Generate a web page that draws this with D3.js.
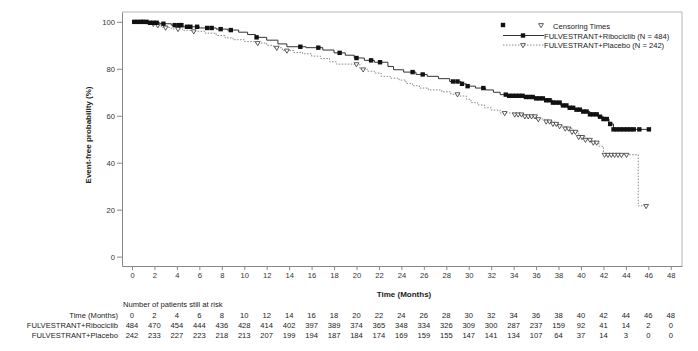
<!DOCTYPE html>
<html>
<head>
<meta charset="utf-8">
<script src="https://cdn.jsdelivr.net/npm/d3@7"></script>
<style>
  body { margin: 0; background: #fff; }
  svg { display: block; font-family: "Liberation Sans", Arial, sans-serif; }
  .axis text { fill: #333; font-size: 7.6px; }
  .axis line, .axis path { stroke: #888; }
  .lbl { font-size: 7.6px; fill: #222; }
  .title { font-size: 8px; font-weight: bold; fill: #222; }
</style>
</head>
<body>
<svg width="698" height="351"></svg>
<script>

  // DATA

  var timeTicks = [0, 2, 4, 6, 8, 10, 12, 14, 16, 18, 20, 22, 24, 26, 28, 30, 32, 34, 36, 38, 40, 42, 44, 46, 48];
  var probTicks = [0, 20, 40, 60, 80, 100];

  // step points of the KM curves: [month, survival %]
  var ribStepT = [0, 1.5, 2.5, 3.5, 4.5, 6.0, 7.5, 8.5, 9.5, 10.3, 11.0, 12.0, 13.0, 13.8, 15.5, 17.0, 18.0, 19.0, 19.8, 20.7, 21.6, 22.8, 23.3, 24.2, 25.3, 26.3, 27.3, 28.3, 29.3, 29.8, 30.6, 31.5, 32.2, 32.8, 33.5, 35.0, 36.0, 36.8, 37.5, 38.2, 38.8, 39.4, 40.0, 40.8, 41.5, 42.0, 42.5, 42.9];
  var ribStepS = [100, 99.6, 99.2, 98.6, 97.9, 97.4, 96.9, 96.5, 95.6, 94.6, 93.4, 92.2, 90.6, 89.4, 89.0, 88.0, 86.8, 85.8, 84.6, 83.6, 82.8, 81.0, 79.6, 78.6, 77.6, 76.8, 75.8, 74.6, 73.6, 72.6, 71.8, 71.0, 70.0, 69.0, 68.5, 68.0, 67.4, 66.6, 65.6, 64.4, 63.4, 62.6, 61.8, 60.6, 59.6, 58.6, 56.5, 54.2];
  var ribEnd = 46.1;

  var plaStepT = [0, 1.2, 2.0, 2.6, 3.5, 4.5, 5.5, 6.5, 7.5, 8.3, 9.0, 10.0, 11.0, 12.0, 12.6, 13.4, 14.4, 15.2, 16.0, 16.8, 17.6, 18.2, 20.3, 21.0, 21.6, 22.2, 23.0, 23.8, 24.4, 25.0, 25.6, 26.4, 27.6, 28.4, 29.2, 29.8, 30.2, 30.8, 31.4, 32.0, 32.8, 34.0, 35.0, 36.0, 36.8, 37.4, 38.0, 38.6, 39.2, 39.8, 40.4, 41.0, 41.6, 42.0, 45.1];
  var plaStepS = [100, 99.2, 98.6, 97.6, 97.0, 96.4, 96.0, 95.2, 94.2, 93.2, 92.4, 91.6, 91.0, 90.0, 89.0, 87.8, 87.0, 86.4, 85.4, 84.4, 83.0, 82.0, 79.8, 79.0, 78.2, 76.8, 76.0, 75.2, 73.8, 72.8, 71.8, 71.0, 70.2, 69.2, 68.4, 67.0, 65.6, 64.6, 63.4, 62.4, 61.2, 60.6, 59.8, 58.6, 57.6, 56.6, 55.6, 54.6, 53.2, 51.0, 49.8, 48.6, 47.0, 43.4, 21.6];
  var plaEnd = 45.8;

  // censoring times (months)
  var ribCensor = [0.2, 0.5, 0.8, 1.0, 1.3, 1.6, 1.9, 2.2, 2.8, 3.8, 4.2, 4.4, 4.9, 5.2, 5.8, 6.7, 7.1, 7.9, 8.8, 11.1, 15.0, 16.6, 18.5, 20.0, 21.3, 22.1, 25.0, 25.9, 28.6, 29.0, 29.4, 29.9, 31.3,
    33.3, 33.6, 33.9, 34.2, 34.5, 34.8, 35.1, 35.4, 35.7, 36.0, 36.3, 36.6, 36.9, 37.2, 37.5, 37.8, 38.1, 38.4, 38.7, 39.0, 39.3, 39.6, 39.9, 40.2, 40.5, 40.8, 41.1, 41.4, 41.7, 42.0, 42.3, 42.6,
    42.9, 43.2, 43.5, 43.8, 44.1, 44.4, 44.7, 45.2, 46.05];
  var plaCensor = [1.9, 2.3, 3.0, 4.1, 5.5, 11.2, 12.9, 13.8, 20.0, 20.6, 29.0, 33.2,
    34.1, 34.4, 34.7, 35.0, 35.3, 35.6, 35.9, 36.2, 36.9, 37.2, 37.5, 37.8, 38.1, 38.6, 38.9, 39.2, 39.5, 39.8, 40.1, 40.4, 40.8, 41.1, 41.4,
    42.1, 42.4, 42.7, 43.0, 43.3, 43.6, 44.06, 45.8];

  // number at risk
  var riskRib = [484, 470, 454, 444, 436, 428, 414, 402, 397, 389, 374, 365, 348, 334, 326, 309, 300, 287, 237, 159, 92, 41, 14, 2, 0];
  var riskPla = [242, 233, 227, 223, 218, 213, 207, 199, 194, 187, 184, 174, 169, 159, 155, 147, 141, 134, 107, 64, 37, 14, 3, 0, 0];

  // SETUP

  var svg = d3.select("svg"),
    x = d3.scaleLinear().domain([-0.89, 49.0]).range([122, 682]),
    y = d3.scaleLinear().domain([-4, 104.2]).range([266, 12]);

  function steps(ts, ss, end) {
    var pts = ts.map(function (t, i) { return [t, ss[i]]; });
    pts.push([end, ss[ss.length - 1]]);
    return pts;
  }

  function survAt(ts, ss, t) {
    var v = ss[0];
    for (var i = 0; i < ts.length; i++) { if (ts[i] <= t) v = ss[i]; }
    return v;
  }

  var line = d3.line()
    .curve(d3.curveStepAfter)
    .x(function (d) { return x(d[0]); })
    .y(function (d) { return y(d[1]); });

  // FRAME + AXES

  svg.append("path")
    .attr("d", "M" + x.range()[0] + "," + y.range()[1] + "H" + x.range()[1] + "V" + y.range()[0])
    .attr("fill", "none")
    .attr("stroke", "#b5b5b5");

  svg.append("g")
    .attr("class", "axis")
    .attr("transform", "translate(0," + y.range()[0] + ")")
    .call(d3.axisBottom(x).tickValues(timeTicks).tickSize(4).tickSizeOuter(0).tickPadding(3));

  svg.append("g")
    .attr("class", "axis")
    .attr("transform", "translate(" + x.range()[0] + ",0)")
    .call(d3.axisLeft(y).tickValues(probTicks).tickSize(5).tickSizeOuter(0).tickPadding(2));

  svg.append("text")
    .attr("class", "title")
    .attr("x", 404).attr("y", 297)
    .attr("text-anchor", "middle")
    .text("Time (Months)");

  svg.append("text")
    .attr("class", "title")
    .attr("transform", "translate(91,135) rotate(-90)")
    .attr("text-anchor", "middle")
    .text("Event-free probability (%)");

  // CURVES

  svg.append("path")
    .datum(steps(plaStepT, plaStepS, plaEnd))
    .attr("d", line)
    .attr("fill", "none")
    .attr("stroke", "#888")
    .attr("stroke-dasharray", "1.5,1.5");

  svg.append("path")
    .datum(steps(ribStepT, ribStepS, ribEnd))
    .attr("d", line)
    .attr("fill", "none")
    .attr("stroke", "#333");

  var tri = d3.symbol().type(d3.symbolTriangle).size(10);

  function square(g, cx, cy) {
    g.append("rect")
      .attr("x", cx - 2.2).attr("y", cy - 2.2)
      .attr("width", 4.4).attr("height", 4.4)
      .attr("fill", "#111");
  }

  function triangle(g, cx, cy) {
    g.append("path")
      .attr("d", tri)
      .attr("transform", "translate(" + cx + "," + cy + ") rotate(180)")
      .attr("fill", "#fff")
      .attr("stroke", "#333")
      .attr("stroke-width", 0.8);
  }

  var marks = svg.append("g");
  plaCensor.forEach(function (t) {
    triangle(marks, x(t), y(survAt(plaStepT, plaStepS, t)));
  });
  ribCensor.forEach(function (t) {
    square(marks, x(t), y(survAt(ribStepT, ribStepS, t)));
  });

  // LEGEND

  var lg = svg.append("g");
  square(lg, 503, 25);
  triangle(lg, 541, 25);
  lg.append("text").attr("class", "lbl").attr("x", 553).attr("y", 28.5).text("Censoring Times");

  lg.append("line").attr("x1", 503).attr("x2", 544).attr("y1", 35.5).attr("y2", 35.5).attr("stroke", "#333");
  square(lg, 523, 35.5);
  lg.append("text").attr("class", "lbl").attr("x", 544).attr("y", 38.5).text("FULVESTRANT+Ribociclib (N = 484)");

  lg.append("line").attr("x1", 503).attr("x2", 544).attr("y1", 45).attr("y2", 45)
    .attr("stroke", "#888").attr("stroke-dasharray", "1.5,1.5");
  triangle(lg, 523, 45);
  lg.append("text").attr("class", "lbl").attr("x", 544).attr("y", 48).text("FULVESTRANT+Placebo (N = 242)");

  // RISK TABLE

  var rt = svg.append("g");
  rt.append("text").attr("class", "lbl").attr("x", 123).attr("y", 307).text("Number of patients still at risk");

  var rows = [
    { label: "Time (Months)", vals: timeTicks, y: 317.5 },
    { label: "FULVESTRANT+Ribociclib", vals: riskRib, y: 328 },
    { label: "FULVESTRANT+Placebo", vals: riskPla, y: 337.5 }
  ];

  rows.forEach(function (r) {
    rt.append("text").attr("class", "lbl").attr("x", 118).attr("y", r.y)
      .attr("text-anchor", "end").text(r.label);
    rt.selectAll(null)
      .data(r.vals)
      .enter().append("text")
      .attr("class", "lbl")
      .attr("x", function (d, i) { return x(timeTicks[i]); })
      .attr("y", r.y)
      .attr("text-anchor", "middle")
      .text(function (d) { return d; });
  });

</script>
</body>
</html>
